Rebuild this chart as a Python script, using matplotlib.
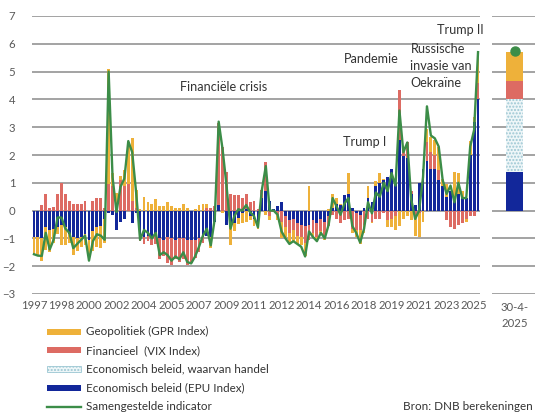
import matplotlib
matplotlib.use("Agg")
import matplotlib.pyplot as plt
import numpy as np
from matplotlib.patches import Rectangle
from matplotlib.lines import Line2D

plt.rcParams['font.family'] = ['Lato', 'DejaVu Sans']

# ---------------- data (quarterly, 1997Q1 .. 2025Q2) ----------------
quarters = [f"{1997 + i // 4}Q{i % 4 + 1}" for i in range(114)]
tick_labels = ['1997', '1998', '2000', '2002', '2004', '2005', '2007', '2009', '2011',
               '2012', '2014', '2016', '2018', '2019', '2021', '2023', '2025']
tick_step = 7

epu = [-0.95, -0.95, -1.00, -0.60, -0.70, -0.65, -0.60, -0.50, -0.60, -0.85,
       -0.95, -1.00, -0.95, -0.85, -1.05, -0.75, -0.60, -0.55, -0.30, -0.10,
       -0.15, -0.70, -0.40, -0.30, 0.00, -0.45, -0.10, -0.90, -0.95, -0.90,
       -0.95, -0.85, -1.00, -1.05, -0.95, -1.00, -1.05, -1.00, -1.00, -1.05,
       -1.05, -1.05, -1.00, -0.95, -0.90, -0.95, -0.40, 0.20, 0.00, -0.50,
       -0.60, -0.45, -0.25, -0.10, 0.05, -0.20, -0.30, -0.50, 0.45, 0.70,
       0.35, 0.05, 0.15, 0.30, -0.20, -0.35, -0.30, -0.45, -0.50, -0.55,
       -0.50, -0.35, -0.45, -0.30, -0.40, -0.20, 0.10, 0.25, 0.20, 0.55,
       0.60, 0.10, -0.10, -0.15, 0.10, 0.45, 0.30, 0.90, 1.00, 1.10,
       1.20, 1.50, 1.00, 2.55, 1.95, 1.90, 0.60, 0.20, 1.00, 1.50,
       1.80, 1.50, 1.50, 1.10, 0.90, 0.50, 0.70, 0.45, 0.60, 0.50,
       0.45, 2.00, 3.20, 4.00]

vix = [0.00, 0.00, 0.20, 0.60, 0.10, 0.12, 0.60, 1.00, 0.60, 0.35,
       0.25, 0.25, 0.25, 0.35, 0.00, 0.35, 0.45, 0.45, 0.10, 0.95,
       0.90, 0.25, 1.10, 0.90, 0.95, 0.35, 0.10, -0.20, -0.25, -0.20,
       -0.30, -0.35, -0.75, -0.60, -0.95, -0.95, -0.70, -0.85, -0.75, -0.90,
       -0.85, -0.65, -0.50, -0.20, 0.10, 0.10, 0.15, 2.95, 2.30, 1.40,
       0.60, 0.55, 0.55, 0.45, 0.55, 0.30, 0.35, 0.05, 0.30, 1.05,
       -0.20, -0.05, -0.15, -0.40, -0.40, -0.45, -0.40, -0.45, -0.45, -0.60,
       -0.55, -0.45, -0.50, -0.45, -0.55, -0.35, -0.15, -0.30, -0.45, -0.35,
       -0.30, -0.65, -0.60, -0.55, -0.50, -0.30, -0.40, -0.30, -0.30, -0.10,
       -0.35, -0.30, -0.20, 1.80, 0.35, 0.55, 0.10, -0.20, -0.10, 0.00,
       0.65, 0.60, 0.50, 0.35, 0.00, -0.35, -0.60, -0.65, -0.50, -0.45,
       -0.30, -0.20, -0.20, 0.60]

gpr = [-0.65, -0.70, -0.80, -0.80, -0.80, -0.50, -0.25, -0.75, -0.65, -0.30,
       -0.65, -0.45, -0.35, -0.40, -0.75, -0.70, -0.70, -0.80, -0.85, 4.15,
       0.45, 0.40, 0.15, 0.55, 1.50, 2.25, 0.65, 0.05, 0.50, 0.30,
       0.25, 0.40, 0.15, 0.15, 0.30, 0.15, 0.10, 0.10, 0.25, 0.10,
       0.00, 0.05, 0.20, 0.25, 0.15, -0.40, 0.00, 0.00, -0.10, 0.00,
       -0.65, -0.30, -0.25, -0.35, -0.40, -0.15, -0.25, -0.15, 0.00, -0.15,
       -0.15, 0.00, -0.20, -0.60, -0.40, -0.35, -0.40, -0.30, -0.30, -0.50,
       0.90, -0.15, -0.15, -0.05, -0.10, 0.05, 0.50, 0.20, 0.05, 0.00,
       0.75, -0.15, -0.25, -0.50, -0.30, 0.45, -0.05, 0.15, 0.35, 0.05,
       -0.25, -0.30, -0.50, -0.55, -0.30, -0.20, -0.35, -0.70, -0.85, -0.40,
       0.50, 0.55, 0.55, 0.85, 0.25, 0.45, 0.00, 0.95, 0.75, 0.20,
       -0.10, 0.50, 0.15, 1.10]

composite = [-1.57, -1.62, -1.63, -0.80, -1.40, -1.05, -0.25, -0.25, -0.65, -0.80,
             -1.35, -1.20, -1.05, -0.90, -1.80, -1.10, -0.85, -0.90, -1.05, 5.00,
             1.20, -0.05, 0.85, 1.15, 2.50, 2.10, 0.65, -1.05, -0.70, -0.80,
             -1.00, -0.80, -1.60, -1.50, -1.60, -1.80, -1.65, -1.75, -1.50, -1.85,
             -1.90, -1.65, -1.30, -0.90, -0.65, -1.25, -0.30, 3.20, 2.20, 0.90,
             -0.65, -0.20, 0.05, 0.00, 0.20, -0.05, -0.20, -0.60, 0.75, 1.60,
             0.00, 0.00, -0.15, -0.75, -1.00, -1.20, -1.10, -1.20, -1.30, -1.65,
             -0.75, -0.95, -1.10, -0.80, -1.00, -0.50, 0.45, 0.15, -0.15, 0.25,
             0.45, -0.55, -0.80, -1.15, -0.65, 0.30, -0.10, 0.65, 0.50, 1.00,
             0.70, 1.35, 0.90, 3.60, 2.10, 2.45, 0.40, -0.30, 0.00, 1.20,
             3.75, 2.70, 2.60, 2.30, 1.10, 0.60, 0.90, 0.30, 1.00, 0.45,
             0.45, 2.30, 2.90, 5.70]

# latest observation (30-4-2025)
side_label = '30-4-\n2025'
side_epu_other = 1.40
side_epu_trade = 2.60
side_vix = 0.65
side_gpr = 1.05
side_composite = 5.75

series_names = ['Geopolitiek (GPR Index)', 'Financieel  (VIX Index)',
                'Economisch beleid, waarvan handel', 'Economisch beleid (EPU Index)',
                'Samengestelde indicator']

# ---------------- style ----------------
C_GPR = '#EEB13A'
C_VIX = '#DD6B63'
C_EPU = '#12279A'
C_TRADE_FACE = '#EEF6F8'
C_TRADE_HATCH = '#9CC7D3'
C_LINE = '#3C8D48'
C_GRID = '#8A8A8A'
C_TICK = '#595959'
C_TEXT = '#333333'

W, H = 535, 412
fig = plt.figure(figsize=(W / 100, H / 100), dpi=100)

def fx(px):
    return px / W

def fy(py):
    return 1 - py / H

ax_bottom, ax_top = 294, 16
ax = fig.add_axes([fx(32), fy(ax_bottom), fx(480) - fx(32), (ax_bottom - ax_top) / H])
ax2 = fig.add_axes([fx(492), fy(ax_bottom), fx(537) - fx(492), (ax_bottom - ax_top) / H])

for a in (ax, ax2):
    a.set_ylim(-3, 7)
    a.set_yticks(range(-3, 8))
    a.grid(axis='y', color=C_GRID, linewidth=1.1, zorder=0)
    a.set_axisbelow(True)
    for s in a.spines.values():
        s.set_visible(False)
    a.tick_params(length=0)

x = np.arange(len(quarters))
pos = np.zeros(len(x))
neg = np.zeros(len(x))
for vals, col in [(epu, C_EPU), (vix, C_VIX), (gpr, C_GPR)]:
    v = np.array(vals)
    bottom = np.where(v >= 0, pos, neg)
    ax.bar(x, v, bottom=bottom, width=0.72, color=col, linewidth=0, zorder=2)
    pos = pos + np.where(v >= 0, v, 0)
    neg = neg + np.where(v < 0, v, 0)

ax.plot(x, composite, color=C_LINE, linewidth=1.7, zorder=3, solid_joinstyle='round')

ax.set_xlim(-0.5, len(x) - 0.5)
ax.set_xticks(x[::tick_step])
ax.set_xticklabels(tick_labels, fontsize=8.2, color=C_TICK)
ax.tick_params(axis='x', pad=4)
ax.tick_params(axis='y', labelsize=8.2, labelcolor=C_TICK, pad=12)

# annotations
ann_kw = dict(fontsize=9.1, color=C_TEXT, zorder=5, clip_on=False)
ax.text(48.3, 4.45, 'Financiële crisis', ha='center', va='center', **ann_kw)
ax.text(85.7, 5.45, 'Pandemie', ha='center', va='center', **ann_kw)
ax.text(95.8, 5.2, 'Russische\ninvasie van\nOekraïne', ha='left', va='center',
        linespacing=1.5, **ann_kw)
ax.text(114.3, 6.5, 'Trump II', ha='right', va='center', **ann_kw)
ax.text(84.2, 2.45, 'Trump I', ha='center', va='center', **ann_kw)

# side panel
ax2.set_xlim(-0.5, 0.5)
bw = 0.38
ax2.bar([0], [side_epu_other], width=bw, color=C_EPU, linewidth=0, zorder=2)
ax2.bar([0], [side_epu_trade], bottom=[side_epu_other], width=bw, color=C_TRADE_FACE,
        edgecolor=C_TRADE_HATCH, hatch='.....', linewidth=0, zorder=2)
ax2.bar([0], [side_vix], bottom=[side_epu_other + side_epu_trade], width=bw,
        color=C_VIX, linewidth=0, zorder=2)
ax2.bar([0], [side_gpr], bottom=[side_epu_other + side_epu_trade + side_vix], width=bw,
        color=C_GPR, linewidth=0, zorder=2)
ax2.plot([0], [side_composite], 'o', color=C_LINE, markersize=6.5, zorder=3)
ax2.set_xticks([0])
ax2.set_xticklabels([side_label], fontsize=8.2, color=C_TICK, linespacing=1.5)
ax2.tick_params(axis='x', pad=6)
ax2.set_yticklabels([])

# legend (drawn manually to match layout)
rows_y = [331.5, 350.3, 369.1, 387.9, 406.7]
for name, yy, kind in zip(series_names, rows_y, ['gpr', 'vix', 'trade', 'epu', 'line']):
    if kind == 'line':
        fig.add_artist(Line2D([fx(47), fx(81)], [fy(yy), fy(yy)], color=C_LINE,
                              linewidth=1.7, transform=fig.transFigure))
    else:
        if kind == 'gpr':
            kw = dict(facecolor=C_GPR, edgecolor='none')
        elif kind == 'vix':
            kw = dict(facecolor=C_VIX, edgecolor='none')
        elif kind == 'epu':
            kw = dict(facecolor=C_EPU, edgecolor='none')
        else:
            kw = dict(facecolor=C_TRADE_FACE, edgecolor=C_TRADE_HATCH, hatch='.....',
                      linewidth=0.6)
        fig.add_artist(Rectangle((fx(47), fy(yy + 3)), fx(81) - fx(47), 6 / H,
                                 transform=fig.transFigure, **kw))
    fig.text(fx(86), fy(yy), name, fontsize=8.4, color=C_TEXT, va='center', ha='left')

fig.text(fx(533), fy(406.7), 'Bron: DNB berekeningen', fontsize=8.4, color=C_TEXT,
         va='center', ha='right')

fig.savefig('out.png', dpi=100)
